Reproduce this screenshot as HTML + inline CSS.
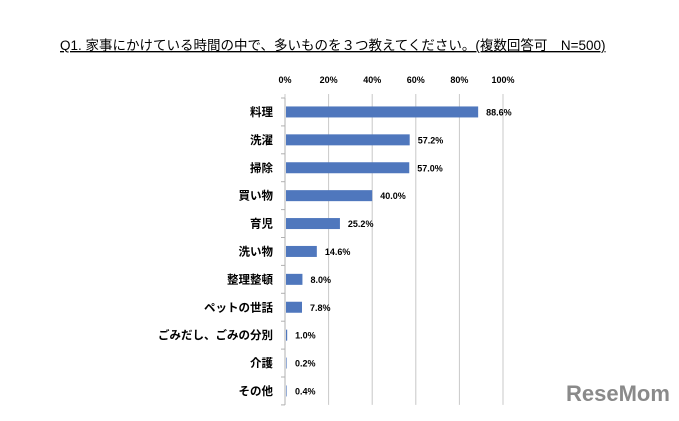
<!DOCTYPE html>
<html><head><meta charset="utf-8"><style>
body{margin:0;background:#fff;width:679px;height:416px;overflow:hidden;font-family:"Liberation Sans","Noto Sans CJK JP",sans-serif;}
</style></head><body>
<svg width="679" height="416">
<text x="60" y="50" font-size="13.5" fill="#000" text-decoration="underline" font-family="Liberation Sans, Noto Sans CJK JP, sans-serif">Q1. 家事にかけている時間の中で、多いものを３つ教えてください。(複数回答可　N=500)</text>
<g id="g"></g>
<text x="566" y="401" font-size="22" font-weight="bold" fill="#8a8a8a">ReseMom</text>
</svg>
<script>
const categories=["料理","洗濯","掃除","買い物","育児","洗い物","整理整頓","ペットの世話","ごみだし、ごみの分別","介護","その他"];
const values=[88.6,57.2,57.0,40.0,25.2,14.6,8.0,7.8,1.0,0.2,0.4];
const ticks=[0,20,40,60,80,100];
const x0=285,x1=503,topY=98,rowH=27.9,barH=11;
const X=v=>x0+(x1-x0)*v/100;
const Y=i=>topY+rowH*i+rowH/2;
const g=document.getElementById('g');
const NS='http://www.w3.org/2000/svg';
function mk(t,a){const e=document.createElementNS(NS,t);for(const k in a)e.setAttribute(k,a[k]);g.appendChild(e);return e;}
const bottomY=topY+rowH*categories.length;
ticks.forEach(t=>{
 const l=mk('line',{x1:X(t),x2:X(t),y1:topY-4,y2:bottomY,stroke:'#c8c8c8','stroke-width':1});
 
 
 const tx=mk('text',{x:X(t),y:83,'font-size':9,'font-weight':'bold','text-anchor':'middle',fill:'#000'});
 tx.textContent=t+'%';
 
 
});
const ax=mk('line',{x1:x0,x2:x0,y1:topY,y2:bottomY,stroke:'#b0b0b0','stroke-width':1});


for(let i=0;i<=categories.length;i++){
 const t=mk('line',{x1:x0-4,x2:x0,y1:topY+rowH*i,y2:topY+rowH*i,stroke:'#b0b0b0'});
 
 
}
categories.forEach((c,i)=>{
 const y=Y(i);
 const lb=mk('text',{x:x0-12,y:y+4,'font-size':11.5,'font-weight':'bold','text-anchor':'end',fill:'#000'});
 lb.textContent=c;
 
 
 const b=mk('rect',{x:x0+1,y:y-barH/2,width:Math.max(X(values[i])-x0-1,0.6),height:barH,fill:'#4f77bd'});
 
 
 const v=mk('text',{x:Math.max(X(values[i]),x0+2)+8,y:y+3.5,'font-size':9,'font-weight':'bold',fill:'#000'});
 v.textContent=values[i].toFixed(1)+'%';
 
 
});
</script>
</body></html>
